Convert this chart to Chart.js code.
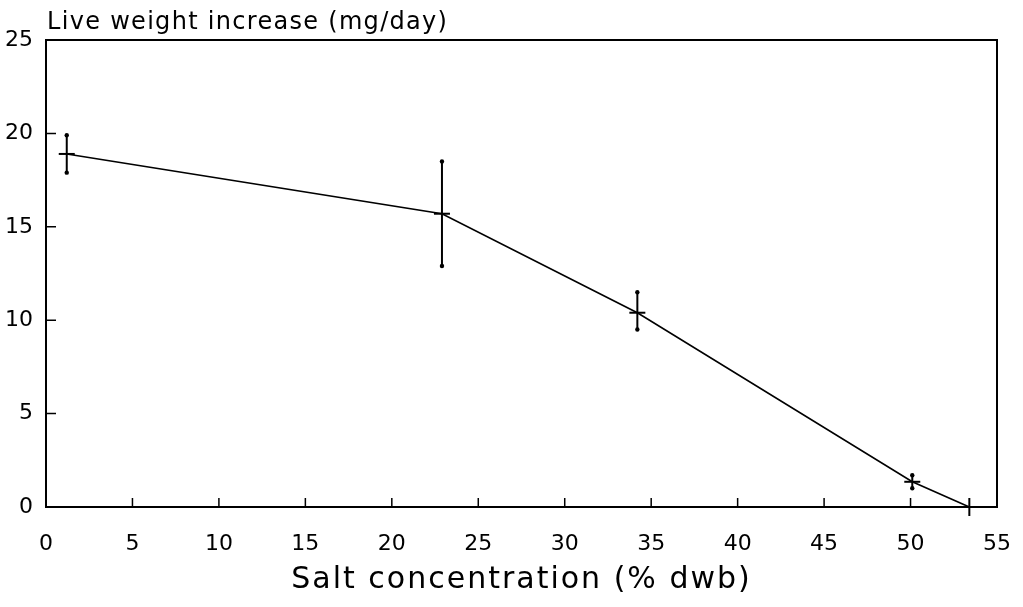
<!DOCTYPE html>
<html>
<head>
<meta charset="utf-8">
<script src="https://cdn.jsdelivr.net/npm/chart.js@4"></script>
<style>
  body { margin: 0; background: #fff; }
  #wrap { width: 1023px; height: 607px; }
</style>
</head>
<body>
<div id="wrap"><canvas id="chart" width="1023" height="607"></canvas></div>
<script>
// salt concentration (% dwb) and live weight increase (mg/day)
const xValues = [1.2, 22.9, 34.2, 50.1, 53.4];
const yValues = [18.9, 15.7, 10.4, 1.35, 0];
// error bar ends (null = no bar)
const errLow = [17.9, 12.9, 9.5, 1.0, null];
const errHigh = [19.9, 18.5, 11.5, 1.7, null];

const xTicks = [0, 5, 10, 15, 20, 25, 30, 35, 40, 45, 50, 55];
const yTicks = [0, 5, 10, 15, 20, 25];

const yTitle = 'Live weight increase (mg/day)';
const xTitle = 'Salt concentration (% dwb)';

const FONT = "'DejaVu Sans', sans-serif";

// box, inner tick marks, error bars and the two axis titles
const framePlugin = {
    id: 'frame',
    afterDatasetsDraw(chart) {
        const ctx = chart.ctx;
        const { left, right, top, bottom } = chart.chartArea;
        const xs = chart.scales.x, ys = chart.scales.y;
        ctx.save();
        ctx.strokeStyle = '#000';
        ctx.lineWidth = 2;
        ctx.strokeRect(left, top, right - left, bottom - top);

        ctx.lineWidth = 1.5;
        ctx.beginPath();
        xTicks.forEach(v => {
            const px = xs.getPixelForValue(v);
            ctx.moveTo(px, bottom);
            ctx.lineTo(px, bottom - 9);
        });
        yTicks.forEach(v => {
            const py = ys.getPixelForValue(v);
            ctx.moveTo(left, py);
            ctx.lineTo(left + 10, py);
        });
        ctx.stroke();

        // error bars
        ctx.lineWidth = 2;
        ctx.fillStyle = '#000';
        xValues.forEach((xv, i) => {
            if (errLow[i] == null) return;
            const px = xs.getPixelForValue(xv);
            const y1 = ys.getPixelForValue(errLow[i]);
            const y2 = ys.getPixelForValue(errHigh[i]);
            ctx.beginPath();
            ctx.moveTo(px, y1);
            ctx.lineTo(px, y2);
            ctx.stroke();
            [y1, y2].forEach(py => {
                ctx.beginPath();
                ctx.arc(px, py, 2.2, 0, Math.PI * 2);
                ctx.fill();
            });
        });

        ctx.font = '24px ' + FONT;
        ctx.letterSpacing = '1.3px';
        ctx.textAlign = 'left';
        ctx.textBaseline = 'alphabetic';
        ctx.fillText(yTitle, 47, 29);

        ctx.font = '30px ' + FONT;
        ctx.letterSpacing = '2px';
        ctx.textAlign = 'center';
        ctx.textBaseline = 'middle';
        ctx.fillText(xTitle, (left + right) / 2, 580);
        ctx.restore();
    }
};

new Chart(document.getElementById('chart'), {
    type: 'scatter',
    data: {
        datasets: [{
            data: xValues.map((x, i) => ({ x: x, y: yValues[i] })),
            showLine: true,
            borderColor: '#000',
            borderWidth: 1.6,
            pointStyle: 'line',
            pointRadius: [8, 8, 8, 8, 9],
            pointRotation: [0, 0, 0, 0, 90],
            pointBorderColor: '#000',
            pointBorderWidth: 2,
            clip: false
        }]
    },
    options: {
        responsive: false,
        animation: false,
        layout: { padding: { top: 40, right: 26, left: 0, bottom: 0 } },
        plugins: {
            legend: { display: false },
            tooltip: { enabled: false }
        },
        scales: {
            x: {
                type: 'linear',
                min: 0,
                max: 55,
                grid: { display: false, drawTicks: false },
                border: { display: false },
                afterBuildTicks: s => { s.ticks = xTicks.map(v => ({ value: v })); },
                afterFit: s => { s.height = 100; s.paddingLeft = 0; s.paddingRight = 0; },
                ticks: {
                    color: '#000',
                    padding: 24,
                    maxRotation: 0,
                    font: { family: FONT, size: 22 }
                }
            },
            y: {
                min: 0,
                max: 25,
                grid: { display: false, drawTicks: false },
                border: { display: false },
                afterBuildTicks: s => { s.ticks = yTicks.map(v => ({ value: v })); },
                afterFit: s => { s.width = 46; s.paddingTop = 0; s.paddingBottom = 0; },
                ticks: {
                    color: '#000',
                    padding: 13,
                    font: { family: FONT, size: 22 }
                }
            }
        }
    },
    plugins: [framePlugin]
});
</script>
</body>
</html>
